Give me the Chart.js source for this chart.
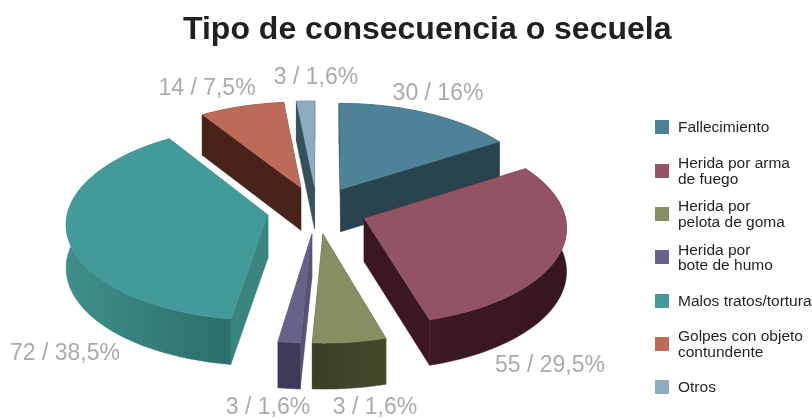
<!DOCTYPE html>
<html lang="es">
<head>
<meta charset="utf-8">
<title>Tipo de consecuencia o secuela</title>
<script src="https://cdn.jsdelivr.net/npm/chart.js@4"></script>
<style>
    html, body { margin: 0; padding: 0; background: #fff; }
    #wrap { position: relative; width: 812px; height: 420px; overflow: hidden; font-family: "Liberation Sans", sans-serif; }
    #myChart { position: absolute; left: 0; top: 0; }
    #titulo { position: absolute; left: 183px; top: 10px; margin: 0; font-size: 32px; line-height: 36px; font-weight: bold; color: #231f20; white-space: nowrap; }
    #leyenda { position: absolute; left: 655px; top: 105.5px; width: 157px; color: #231f20; font-size: 15.5px; line-height: 15.5px; }
    .fila { display: flex; align-items: center; height: 43.35px; }
    .cuadro { width: 14px; height: 14px; margin-right: 9px; flex: none; }
    .texto { white-space: nowrap; }
</style>
</head>
<body>
<div id="wrap">
    <canvas id="myChart" width="812" height="420"></canvas>
    <h1 id="titulo">Tipo de consecuencia o secuela</h1>
    <div id="leyenda"></div>
</div>
<script>
// 數據
const categorias = [
    ['Fallecimiento'],
    ['Herida por arma', 'de fuego'],
    ['Herida por', 'pelota de goma'],
    ['Herida por', 'bote de humo'],
    ['Malos tratos/tortura'],
    ['Golpes con objeto', 'contundente'],
    ['Otros']
];
const valores = [30, 55, 10, 3, 72, 14, 3];
const etiquetas = ['30 / 16%', '55 / 29,5%', '3 / 1,6%', '3 / 1,6%', '72 / 38,5%', '14 / 7,5%', '3 / 1,6%'];

// 顏色
const colores = ['#4d8297', '#925463', '#878f62', '#656389', '#429b98', '#bc6b58', '#8badbf'];
const coloresCorte = ['#29434f', '#3a1722', '#3f4226', '#565278', '#3a8580', '#47231a', '#35505c'];
const coloresBorde = [
    ['#29434f', '#29434f'],
    ['#3c1924', '#38161f'],
    ['#3c3f24', '#45482b'],
    ['#3e3a59', '#3e3a59'],
    ['#3f8f8b', '#2b6e6c'],
    ['#47231a', '#47231a'],
    ['#35505c', '#35505c']
];

// 標籤位置 (x, y 中心)
const posEtiquetas = [[438, 94], [550, 366], [375, 408], [268, 408], [65, 354], [207, 89], [316, 78]];

const distancia = 2500; // 透視距離
const inclinacion = 0.48;
const pasos = 48;

function proyectar(arc, u, v) {
    let s = 1 / (1 - v / distancia);
    return [arc.x + u * s, arc.y + inclinacion * v * s];
}

function altura(v) {
    return 43 + v * 0.012;
}

function trazar(ctx, puntos, color) {
    ctx.beginPath();
    puntos.forEach((p, i) => i ? ctx.lineTo(p[0], p[1]) : ctx.moveTo(p[0], p[1]));
    ctx.closePath();
    ctx.fillStyle = color;
    ctx.fill();
    ctx.strokeStyle = color;
    ctx.lineWidth = 0.5;
    ctx.stroke();
}

// 把扇形畫成立體
function dibujarPorcion(ctx, arc, i) {
    let medio = (arc.startAngle + arc.endAngle) / 2;
    let desp = arc.options.offset;
    let u0 = Math.cos(medio) * desp;
    let v0 = Math.sin(medio) * desp;

    let plano = [];
    for (let k = 0; k <= pasos; k++) {
        let a = arc.startAngle + (arc.endAngle - arc.startAngle) * k / pasos;
        plano.push([u0 + Math.cos(a) * arc.outerRadius, v0 + Math.sin(a) * arc.outerRadius]);
    }
    let arriba = plano.map(p => proyectar(arc, p[0], p[1]));
    let abajo = plano.map((p, k) => [arriba[k][0], arriba[k][1] + altura(p[1])]);
    let centro = proyectar(arc, u0, v0);
    let centroAbajo = [centro[0], centro[1] + altura(v0)];

    // 切面
    trazar(ctx, [centro, arriba[0], abajo[0], centroAbajo], coloresCorte[i]);
    trazar(ctx, [centro, arriba[pasos], abajo[pasos], centroAbajo], coloresCorte[i]);

    // 外圍
    let xs = arriba.map(p => p[0]);
    let grad = ctx.createLinearGradient(Math.min(...xs), 0, Math.max(...xs), 0);
    grad.addColorStop(0, coloresBorde[i][0]);
    grad.addColorStop(1, coloresBorde[i][1]);
    trazar(ctx, arriba.concat(abajo.slice().reverse()), grad);

    // 頂面
    trazar(ctx, [centro].concat(arriba), colores[i]);
}

const pie3d = {
    id: 'pie3d',
    beforeDatasetDraw(chart) {
        let ctx = chart.ctx;
        let arcs = chart.getDatasetMeta(0).data;
        let orden = arcs.map((arc, i) => i).sort((a, b) => {
            let ma = (arcs[a].startAngle + arcs[a].endAngle) / 2;
            let mb = (arcs[b].startAngle + arcs[b].endAngle) / 2;
            return Math.sin(ma) - Math.sin(mb);
        });
        ctx.save();
        orden.forEach(i => dibujarPorcion(ctx, arcs[i], i));

        ctx.font = '23px "Liberation Sans", sans-serif';
        ctx.fillStyle = '#a8aaae';
        ctx.textAlign = 'center';
        ctx.textBaseline = 'middle';
        etiquetas.forEach((t, i) => ctx.fillText(t, posEtiquetas[i][0], posEtiquetas[i][1]));
        ctx.restore();
        return false; // 不用內建的平面扇形
    }
};

new Chart(document.getElementById('myChart').getContext('2d'), {
    type: 'pie',
    data: {
        labels: categorias.map(c => c.join(' ')),
        datasets: [{
            data: valores,
            backgroundColor: colores,
            offset: 50,
            borderWidth: 0
        }]
    },
    options: {
        responsive: false,
        animation: false,
        radius: 200,
        layout: { padding: { right: 178 } },
        plugins: {
            legend: { display: false },
            tooltip: { enabled: false }
        }
    },
    plugins: [pie3d]
});

// 圖例
const leyenda = document.getElementById('leyenda');
categorias.forEach((c, i) => {
    let fila = document.createElement('div');
    fila.className = 'fila';
    fila.innerHTML = '<span class="cuadro" style="background:' + colores[i] + '"></span>' +
        '<span class="texto">' + c.join('<br>') + '</span>';
    leyenda.appendChild(fila);
});
</script>
</body>
</html>
